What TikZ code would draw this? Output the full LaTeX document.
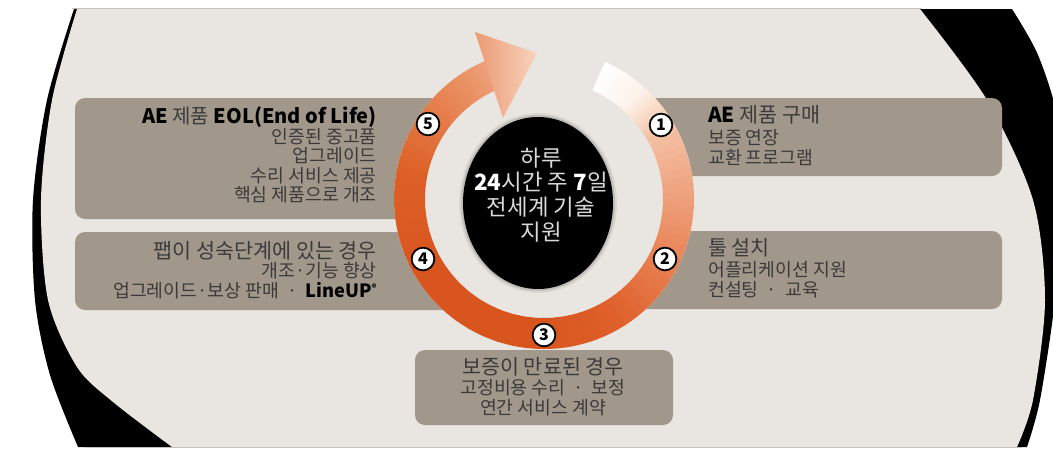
\documentclass[tikz,border=0pt]{standalone}
\usepackage{fontspec}
\setmainfont{Noto Sans CJK KR}
\definecolor{bg}{HTML}{E9E6E1}
\definecolor{boxc}{HTML}{A1988B}
\definecolor{txtg}{HTML}{3A3A3A}
\definecolor{linec}{HTML}{C4C0BA}
\definecolor{ctxt}{HTML}{DADADA}
\definecolor{k0}{HTML}{FFFFFF}
\definecolor{k1}{HTML}{FDF2EA}
\definecolor{k2}{HTML}{F4C1A4}
\definecolor{k3}{HTML}{EEA07A}
\definecolor{k4}{HTML}{E77D4F}
\definecolor{k5}{HTML}{DE6029}
\definecolor{k6}{HTML}{D9551E}
\definecolor{k7}{HTML}{D9551F}
\definecolor{k8}{HTML}{DD5F27}
\definecolor{k9}{HTML}{E47844}
\definecolor{k10}{HTML}{EA9062}
\definecolor{k11}{HTML}{EDA07C}
\definecolor{ahl}{HTML}{EC9A72}
\definecolor{ahr}{HTML}{F7D3BE}
\newcommand\ringseg[4]{%
  \foreach \k in {0,...,9}{%
    \pgfmathsetmacro\angA{(#1)+((#2)-(#1))*\k/10}%
    \pgfmathsetmacro\angB{(#1)+((#2)-(#1))*(\k+1)/10-0.5}%
    \pgfmathtruncatemacro\mixp{95-10*\k}%
    \fill[#3!\mixp!#4] (\angA:150) arc[start angle=\angA, end angle=\angB, radius=150]
      -- (\angB:119) arc[start angle=\angB, end angle=\angA, radius=119] -- cycle;
  }%
}
\newcommand\bk[1]{\textcolor{black}{\bfseries #1}}
\tikzset{
  body/.style={font=\fontsize{13.7}{15}\selectfont, text=txtg, inner sep=0pt},
  ttl/.style={font=\fontsize{15.5}{17}\selectfont, text=txtg, inner sep=0pt},
  ctr/.style={font=\fontsize{16.8}{19}\selectfont, text=ctxt, inner sep=0pt},
  infobox/.style={fill=boxc, rounded corners=7.5pt},
  badge/.style={circle, draw=black, line width=1.35pt, fill=white, inner sep=0pt,
    minimum size=17pt, font=\bfseries\fontsize{12}{12}\selectfont}
}
\begin{document}
\begin{tikzpicture}[x=0.75pt,y=-0.75pt]
\useasboundingbox (0,0) rectangle (1053,450);
\fill[white] (0,0) rectangle (1053,450);
% dark backdrop
\fill[black] plot[smooth] coordinates {(74,9) (47,100) (33,200) (35,300) (50,375) (78,447)}
  -- (1027,447)
  -- plot[smooth] coordinates {(1027,447) (1040,400) (1055,300) (1062,200) (1058,120) (1038,55) (1012,9)}
  -- cycle;
% beige panel
\fill[bg] plot[smooth] coordinates {(77,9) (52,100) (41,200) (48,300) (77,367) (113,402) (172,447)}
  -- plot[smooth] coordinates {(1017,447) (1033,400) (1045,300) (1033,200) (987,100) (920,9)}
  -- cycle;
\draw[linec, line width=0.9pt] (72,8.5) -- (922,8.5);
\draw[linec, line width=0.9pt] (85,447.5) -- (1022,447.5);
% boxes
\fill[infobox] (75,98) rectangle (540,219);
\fill[infobox] (75,232) rectangle (540,310);
\fill[infobox] (545,98) rectangle (1002,176);
\fill[infobox] (545,231) rectangle (1002,309);
\fill[infobox] (415,350) rectangle (673,425);
% ring
\begin{scope}[shift={(544,199)}, x=0.75pt, y=0.75pt]
  \fill[bg] (0,0) circle[radius=150];
  \ringseg{66}{48}{k0}{k1}
  \ringseg{48}{30}{k1}{k2}
  \ringseg{30}{0}{k2}{k3}
  \ringseg{0}{-30}{k3}{k4}
  \ringseg{-30}{-60}{k4}{k5}
  \ringseg{-60}{-90}{k5}{k6}
  \ringseg{-90}{-150}{k6}{k7}
  \ringseg{-150}{-190}{k7}{k8}
  \ringseg{-190}{-215}{k8}{k9}
  \ringseg{-215}{-235}{k9}{k10}
  \ringseg{-235}{-247}{k10}{k11}
  \shade[left color=ahl, right color=ahr] (-69,167) -- (-7,146) -- (-41,81) -- cycle;
\end{scope}
% centre disk
\fill[black, opacity=0.06] (538,203) ellipse[x radius=79, y radius=90];
\fill[black, opacity=0.12] (538,203) ellipse[x radius=77, y radius=88];
\fill[black] (538,203) ellipse[x radius=75, y radius=86];
\node[ctr, anchor=base] (c1) at (541,166) {하루};
\node[ctr, anchor=base] (c2) at (541,190) {\textcolor{white}{\bfseries 24}시간 주 \textcolor{white}{\bfseries 7}일};
\node[ctr, anchor=base] (c3) at (541,215) {전세계 기술};
\node[ctr, anchor=base] (c4) at (541,240) {지원};
% badges
\node[badge] (b1) at (661,125) {1};
\node[badge] (b2) at (665,259) {2};
\node[badge] (b3) at (544,335) {3};
\node[badge] (b4) at (423,259) {4};
\node[badge] (b5) at (428,124) {5};
% top-left box
\node[ttl, font=\fontsize{15}{17}\selectfont, anchor=base east] (tl1) at (377,123) {\bk{AE} 제품 \bk{EOL(End of Life)}};
\node[body, anchor=base east] (tl2) at (377,143) {인증된 중고품};
\node[body, anchor=base east] (tl3) at (377,162) {업그레이드};
\node[body, anchor=base east] (tl4) at (377,182) {수리 서비스 제공};
\node[body, anchor=base east] (tl5) at (377,201) {핵심 제품으로 개조};
% left second box
\node[ttl, anchor=base east] (l1) at (377,258) {팹이 성숙단계에 있는 경우};
\node[body, anchor=base east] (l2) at (377,277) {개조·기능 향상};
\node[body, anchor=base east] (l3) at (377,297) {업그레이드·보상 판매 \ · \ \bk{LineUP\raisebox{0.55ex}{\fontsize{7}{7}\selectfont ®}}};
% top-right box
\node[ttl, anchor=base west] (tr1) at (708,122) {\bk{AE} 제품 구매};
\node[body, anchor=base west] (tr2) at (708,144) {보증 연장};
\node[body, anchor=base west] (tr3) at (708,164) {교환 프로그램};
% right second box
\node[ttl, anchor=base west] (r1) at (708,255) {툴 설치};
\node[body, anchor=base west] (r2) at (708,276) {어플리케이션 지원};
\node[body, anchor=base west] (r3) at (708,296) {컨설팅 \ · \ 교육};
% bottom box
\node[ttl, anchor=base] (bb1) at (543,374) {보증이 만료된 경우};
\node[body, anchor=base] (bb2) at (543,394) {고정비용 수리 \ · \ 보정};
\node[body, anchor=base] (bb3) at (543,414) {연간 서비스 계약};
\end{tikzpicture}
\end{document}
